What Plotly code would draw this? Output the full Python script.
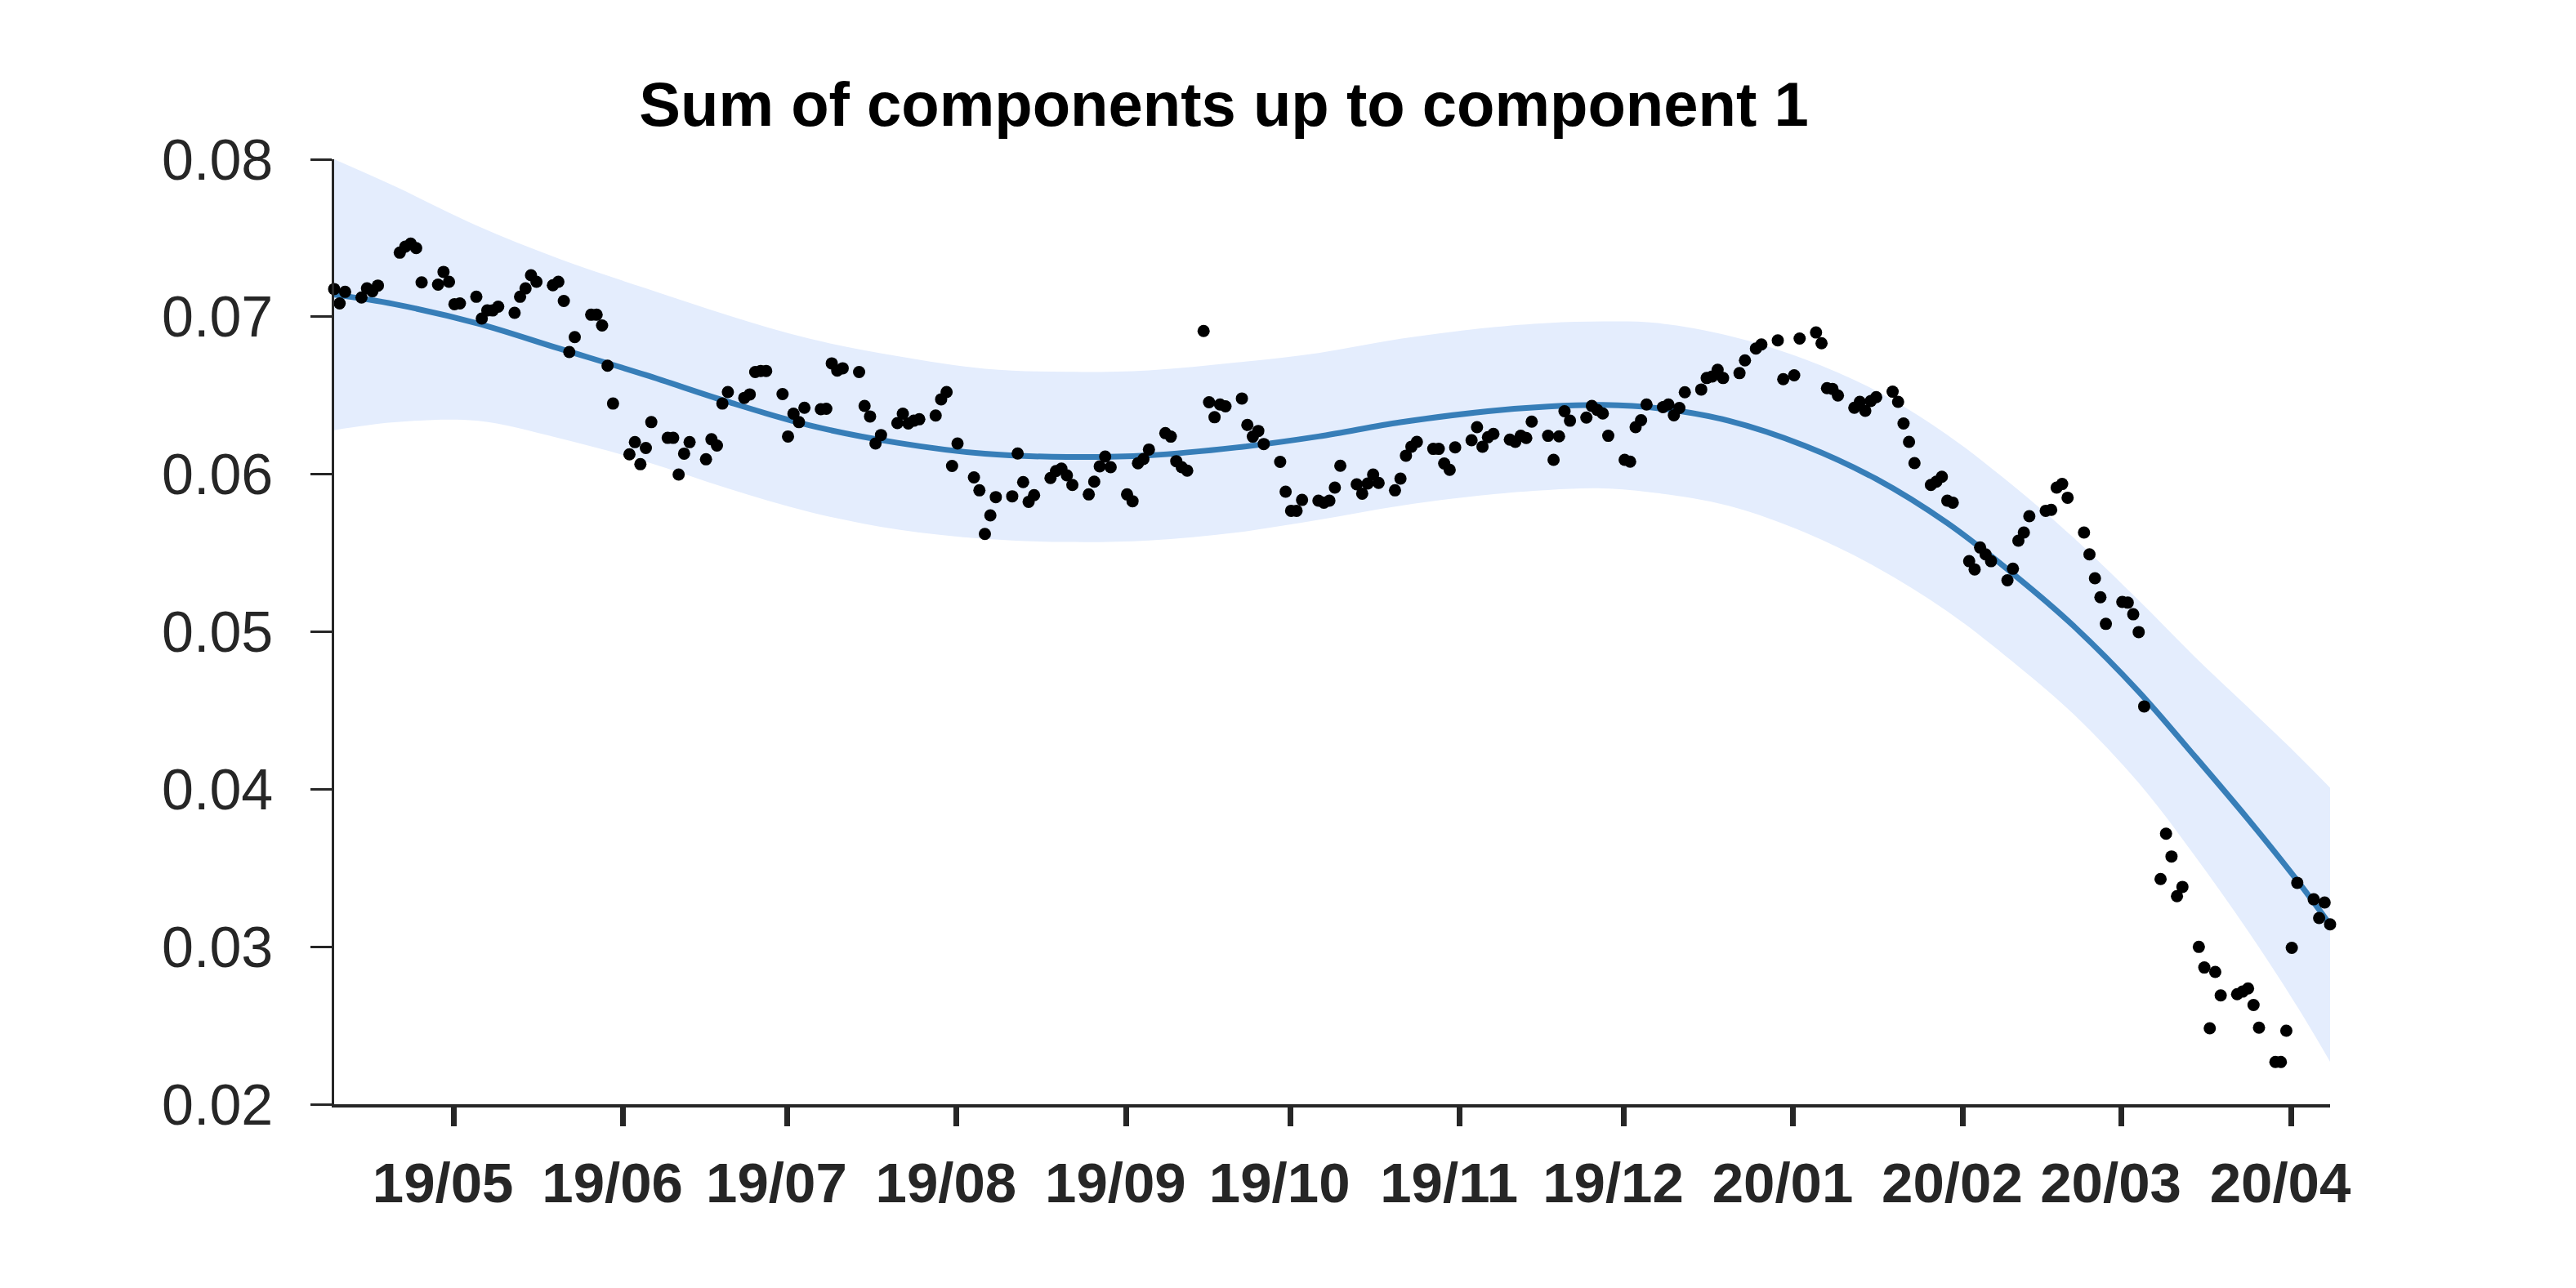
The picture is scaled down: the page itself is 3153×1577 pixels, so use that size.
import pandas as pd
import plotly.graph_objects as go

# ---------------- data ----------------
start_date = "2019-04-10"
end_date = "2020-04-09"
market_holidays = ["2019-04-19", "2019-12-25", "2020-01-01"]

# observed values, one row per trading week
values = [
    0.07176, 0.07085, 0.07158,
    0.07122, 0.07180, 0.07162, 0.07198,
    0.07407, 0.07445, 0.07464, 0.07436, 0.07218,
    0.07204, 0.07285, 0.07222, 0.07080, 0.07085,
    0.07127, 0.06989, 0.07040, 0.07040, 0.07064,
    0.07025, 0.07127, 0.07180, 0.07264, 0.07222,
    0.07200, 0.07222, 0.07100, 0.06776, 0.06871,
    0.07013, 0.07013, 0.06945, 0.06689, 0.06449,
    0.06127, 0.06204, 0.06064, 0.06167, 0.06331,
    0.06231, 0.06231, 0.05998, 0.06131, 0.06204,
    0.06095, 0.06222, 0.06182, 0.06449, 0.06522,
    0.06485, 0.06507, 0.06649, 0.06656, 0.06656,
    0.06509, 0.06240, 0.06385, 0.06331, 0.06422,
    0.06413, 0.06416, 0.06704, 0.06658, 0.06673,
    0.06649, 0.06434, 0.06367, 0.06195, 0.06249,
    0.06325, 0.06385, 0.06322, 0.06340, 0.06349,
    0.06373, 0.06476, 0.06522, 0.06053, 0.06195,
    0.05980, 0.05898, 0.05621, 0.05739, 0.05855,
    0.05860, 0.06132, 0.05950, 0.05825, 0.05867,
    0.05976, 0.06020, 0.06036, 0.05993, 0.05932,
    0.05872, 0.05953, 0.06050, 0.06112, 0.06045,
    0.05872, 0.05829, 0.06070, 0.06097, 0.06157,
    0.06261, 0.06239, 0.06083, 0.06045, 0.06023,
    0.06910, 0.06457, 0.06362, 0.06443, 0.06431,
    0.06481, 0.06313, 0.06239, 0.06275, 0.06192,
    0.06079, 0.05889, 0.05768, 0.05768, 0.05837,
    0.05832, 0.05820, 0.05832, 0.05915, 0.06054,
    0.05936, 0.05877, 0.05941, 0.05998, 0.05945,
    0.05898, 0.05972, 0.06118, 0.06175, 0.06206,
    0.06161, 0.06161, 0.06068, 0.06028, 0.06171,
    0.06216, 0.06299, 0.06175, 0.06235, 0.06256,
    0.06220, 0.06206, 0.06244, 0.06230, 0.06334,
    0.06244, 0.06092, 0.06241, 0.06400, 0.06340,
    0.06360, 0.06434, 0.06408, 0.06386, 0.06244,
    0.06092, 0.06080, 0.06299, 0.06343, 0.06443,
    0.06426, 0.06443, 0.06374, 0.06421, 0.06521,
    0.06538, 0.06611, 0.06621, 0.06663, 0.06611,
    0.06642, 0.06723, 0.06798, 0.06824,
    0.06850, 0.06604, 0.06628, 0.06862,
    0.06900, 0.06832, 0.06547, 0.06542, 0.06500,
    0.06422, 0.06460, 0.06403, 0.06465, 0.06490,
    0.06524, 0.06460, 0.06322, 0.06206, 0.06071,
    0.05932, 0.05953, 0.05984, 0.05832, 0.05820,
    0.05448, 0.05396, 0.05535, 0.05491, 0.05448,
    0.05327, 0.05400, 0.05578, 0.05630, 0.05734,
    0.05768, 0.05774, 0.05915, 0.05938, 0.05851,
    0.05630, 0.05491, 0.05340, 0.05219, 0.05050,
    0.05189, 0.05185, 0.05111, 0.04998, 0.04526,
    0.03430, 0.03718, 0.03573, 0.03321, 0.03380,
    0.02999, 0.02868, 0.02482, 0.02840, 0.02691,
    0.02699, 0.02715, 0.02735, 0.02630, 0.02486,
    0.02268, 0.02268, 0.02467, 0.02993, 0.03406,
    0.03301, 0.03182, 0.03281, 0.03142,
]

# fitted component (days after start_date) and half-width of its band
fit_days = [0, 11, 26, 41, 57, 72, 87, 103, 119, 134, 149, 165, 180, 195, 211,
            222, 232, 242, 255, 269, 282, 295, 308, 318, 330, 340, 350, 359, 365]
fit_mean = [0.0714, 0.0708, 0.0696, 0.0680, 0.0663, 0.0646, 0.0631, 0.0620, 0.0613,
            0.0611, 0.0612, 0.0617, 0.0624, 0.0633, 0.0640, 0.0643, 0.0644, 0.0642,
            0.0634, 0.0618, 0.0597, 0.0569, 0.0534, 0.0504, 0.0462, 0.0422, 0.0381,
            0.0342, 0.0314]
fit_halfwidth = [0.0086, 0.0075, 0.0062, 0.0057, 0.0055, 0.0055, 0.0055, 0.0055,
                 0.0054, 0.0054, 0.0054, 0.0054, 0.0053, 0.0053, 0.0053, 0.0053,
                 0.0053, 0.0054, 0.0054, 0.0055, 0.0056, 0.0056, 0.0056, 0.0056,
                 0.0058, 0.0063, 0.0071, 0.0080, 0.0087]

tick_months = ["2019-05-01", "2019-06-01", "2019-07-01", "2019-08-01", "2019-09-01",
               "2019-10-01", "2019-11-01", "2019-12-01", "2020-01-01", "2020-02-01",
               "2020-03-01", "2020-04-01"]
tick_labels = ["19/05", "19/06", "19/07", "19/08", "19/09", "19/10", "19/11",
               "19/12", "20/01", "20/02", "20/03", "20/04"]
y_ticks = [0.02, 0.03, 0.04, 0.05, 0.06, 0.07, 0.08]
y_tick_labels = ["0.02", "0.03", "0.04", "0.05", "0.06", "0.07", "0.08"]

title_text = "Sum of components up to component 1"

# ---------------- build ----------------
dates = pd.bdate_range(start_date, end_date)
dates = dates[~dates.isin(pd.to_datetime(market_holidays))]
n = min(len(dates), len(values))
dates = dates[:n]
vals = values[:n]

t0 = pd.Timestamp(start_date)
fit_dates = [t0 + pd.Timedelta(days=d) for d in fit_days]
fit_upper = [m + w for m, w in zip(fit_mean, fit_halfwidth)]
fit_lower = [m - w for m, w in zip(fit_mean, fit_halfwidth)]
tick_vals = [pd.Timestamp(m) + pd.Timedelta(hours=20) for m in tick_months]

FONT = "Liberation Sans, Arial, Helvetica, sans-serif"
AX = "#262626"
BAND = "rgb(228,237,253)"
LINE = "#377eb8"
SMOOTH = 1.0

# page body has an 8px margin: figure is shrunk accordingly
W, H = 3145, 1569
fig = go.Figure()
fig.add_trace(go.Scatter(x=fit_dates, y=fit_upper, mode="lines",
                         line=dict(width=0, shape="spline", smoothing=SMOOTH, color=BAND),
                         hoverinfo="skip", showlegend=False))
fig.add_trace(go.Scatter(x=fit_dates, y=fit_lower, mode="lines",
                         line=dict(width=0, shape="spline", smoothing=SMOOTH, color=BAND),
                         fill="tonexty", fillcolor=BAND,
                         hoverinfo="skip", showlegend=False))
fig.add_trace(go.Scatter(x=fit_dates, y=fit_mean, mode="lines",
                         line=dict(width=7, shape="spline", smoothing=SMOOTH, color=LINE),
                         showlegend=False))
fig.add_trace(go.Scatter(x=dates, y=vals, mode="markers",
                         marker=dict(size=15, color="black", line=dict(width=0)),
                         cliponaxis=False, showlegend=False))

fig.update_layout(
    width=W, height=H,
    paper_bgcolor="white", plot_bgcolor="white",
    margin=dict(l=401, r=301, t=187, b=225, pad=0),
    showlegend=False,
    title=dict(text=title_text, x=1490 / W, xref="container", xanchor="center",
               y=1 - 119 / H, yref="container", yanchor="middle",
               font=dict(family=FONT, size=76, color="black", weight="bold")),
    xaxis=dict(
        type="date",
        range=[pd.Timestamp(start_date), pd.Timestamp(end_date)],
        tickmode="array", tickvals=tick_vals, ticktext=tick_labels,
        showgrid=False, zeroline=False,
        showline=True, linecolor=AX, linewidth=4,
        ticks="outside", ticklen=23, tickwidth=7, tickcolor=AX,
        tickfont=dict(family=FONT, size=69, color=AX, weight="bold"),
        ticklabelstandoff=10, ticklabelshift=-13,
    ),
    yaxis=dict(
        range=[0.02, 0.08],
        tickmode="array", tickvals=y_ticks, ticktext=y_tick_labels,
        showgrid=False, zeroline=False,
        showline=True, linecolor=AX, linewidth=2.5,
        ticks="outside", ticklen=26, tickwidth=2.5, tickcolor=AX,
        tickfont=dict(family=FONT, size=70, color=AX),
        ticklabelstandoff=32,
    ),
)

fig.write_html("out.html")
